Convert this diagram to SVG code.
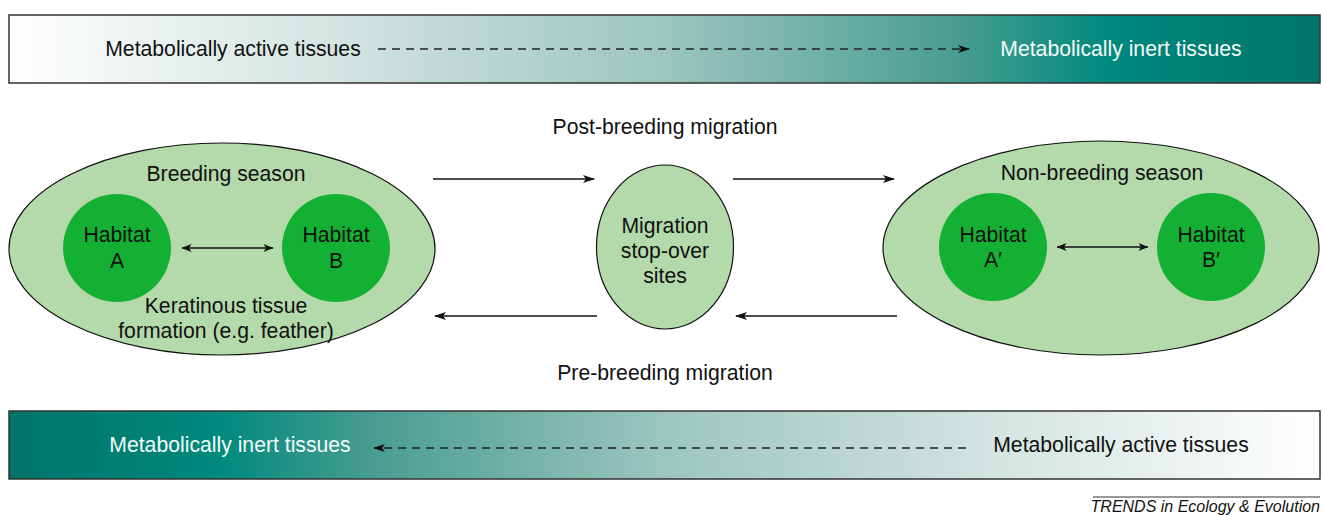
<svg xmlns="http://www.w3.org/2000/svg" width="1323" height="515" viewBox="0 0 1323 515">
<style>
text{font-family:"Liberation Sans",Arial,sans-serif;font-size:21.2px;fill:#111;text-anchor:middle}
.w{fill:#f4faf8}
.bar{stroke:#333;stroke-width:1.5}
.season{fill:#b4daab;stroke:#111;stroke-width:1.2}
.hab{fill:#14b034}
.ln{stroke:#111;stroke-width:1.3;fill:none}
.dash{stroke:#222;stroke-width:1.6;stroke-dasharray:8 6;fill:none}
</style>
<defs>
<linearGradient id="gTop" x1="0" x2="1" y1="0" y2="0">
<stop offset="0" stop-color="#ffffff"/>
<stop offset="0.25" stop-color="#d3e4e1"/>
<stop offset="0.5" stop-color="#9cc6be"/>
<stop offset="0.72" stop-color="#4a9d92"/>
<stop offset="0.84" stop-color="#00897d"/>
<stop offset="1" stop-color="#007469"/>
</linearGradient>
<linearGradient id="gBot" x1="1" x2="0" y1="0" y2="0">
<stop offset="0" stop-color="#ffffff"/>
<stop offset="0.25" stop-color="#d3e4e1"/>
<stop offset="0.5" stop-color="#9cc6be"/>
<stop offset="0.72" stop-color="#4a9d92"/>
<stop offset="0.84" stop-color="#00897d"/>
<stop offset="1" stop-color="#007469"/>
</linearGradient>
<marker id="ah" viewBox="0 0 12 8" refX="11" refY="4" markerWidth="12" markerHeight="8" markerUnits="userSpaceOnUse" orient="auto-start-reverse">
<path d="M0,0 L12,4 L0,8 L3,4 z" fill="#111"/>
</marker>
<marker id="ahs" viewBox="0 0 10 8" refX="9.5" refY="4" markerWidth="10" markerHeight="8" markerUnits="userSpaceOnUse" orient="auto-start-reverse">
<path d="M0,0 L10,4 L0,8 L2.5,4 z" fill="#111"/>
</marker>
</defs>

<g id="top-bar">
<rect class="bar" x="9" y="15" width="1311" height="68" fill="url(#gTop)"/>
<text x="233" y="56">Metabolically active tissues</text>
<text class="w" x="1121" y="56">Metabolically inert tissues</text>
</g>

<g id="bottom-bar">
<rect class="bar" x="9" y="411" width="1311" height="68" fill="url(#gBot)"/>
<text class="w" x="230" y="452">Metabolically inert tissues</text>
<text x="1121" y="452">Metabolically active tissues</text>
</g>

<g id="breeding-season">
<ellipse class="season" cx="222" cy="249" rx="213" ry="106"/>
<text x="226" y="181">Breeding season</text>
<text x="226" y="313">Keratinous tissue</text>
<text x="226" y="338">formation (e.g. feather)</text>
</g>
<g id="habitat-a">
<circle class="hab" cx="117" cy="248" r="54"/>
<text x="117" y="242">Habitat</text>
<text x="117" y="268">A</text>
</g>
<g id="habitat-b">
<circle class="hab" cx="336" cy="248" r="54"/>
<text x="336" y="242">Habitat</text>
<text x="336" y="268">B</text>
</g>

<g id="stopover">
<ellipse class="season" cx="665" cy="247" rx="68.5" ry="82"/>
<text x="665" y="233">Migration</text>
<text x="665" y="258">stop-over</text>
<text x="665" y="283">sites</text>
</g>

<g id="non-breeding-season">
<ellipse class="season" cx="1101" cy="248" rx="218" ry="107"/>
<text x="1102" y="180">Non-breeding season</text>
</g>
<g id="habitat-a-prime">
<circle class="hab" cx="993" cy="247" r="54"/>
<text x="993" y="242">Habitat</text>
<text x="993" y="267">A′</text>
</g>
<g id="habitat-b-prime">
<circle class="hab" cx="1211" cy="247" r="54"/>
<text x="1211" y="242">Habitat</text>
<text x="1211" y="267">B′</text>
</g>

<g id="labels">
<text x="665" y="134">Post-breeding migration</text>
<text x="665" y="380">Pre-breeding migration</text>
<text x="1320" y="512" style="font-size:16px;font-style:italic;text-anchor:end">TRENDS in Ecology &amp; Evolution</text>
<line x1="1093" y1="497" x2="1320" y2="497" stroke="#333" stroke-width="1"/>
</g>

<g id="connectors">
<line class="dash" x1="378" y1="49" x2="969" y2="49" marker-end="url(#ah)"/>
<line class="dash" x1="966" y1="448" x2="374" y2="448" marker-end="url(#ah)"/>
<line class="ln" x1="433" y1="179" x2="594" y2="179" marker-end="url(#ah)"/>
<line class="ln" x1="733" y1="179" x2="894" y2="179" marker-end="url(#ah)"/>
<line class="ln" x1="597" y1="316" x2="435" y2="316" marker-end="url(#ah)"/>
<line class="ln" x1="897" y1="316" x2="736" y2="316" marker-end="url(#ah)"/>
<line class="ln" x1="182" y1="248" x2="273" y2="248" marker-start="url(#ahs)" marker-end="url(#ahs)"/>
<line class="ln" x1="1057" y1="247" x2="1148" y2="247" marker-start="url(#ahs)" marker-end="url(#ahs)"/>
</g>
</svg>
